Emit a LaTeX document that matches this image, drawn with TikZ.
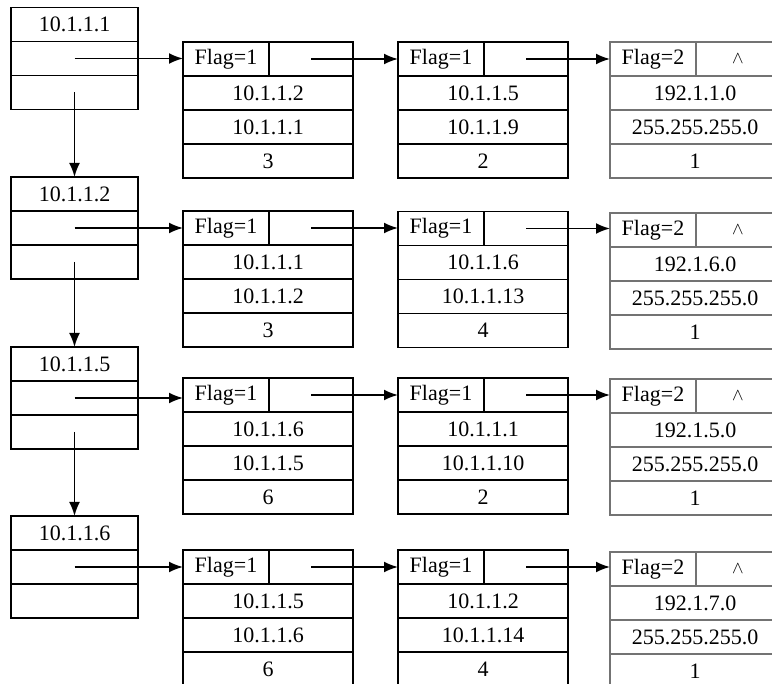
\documentclass[tikz,border=0pt]{standalone}
\usepackage{fontspec}
\setmainfont{Liberation Serif}
\newfontfamily\tms{Liberation Serif}
\usetikzlibrary{arrows.meta}
\newcommand\mkleft[4]{%
  \node[cell, minimum width=127pt] (#1a) at (#2,#3) {#4};
  \node[cell, minimum width=127pt] (#1b) at (#1a.south west) {};
  \node[cell, minimum width=127pt] (#1c) at (#1b.south west) {};}
\newcommand\mkrec[9]{%
  \node[#2, minimum width=86pt] (#1f) at (#3,#4) {#5};
  \node[#2, minimum width=84pt] (#1p) at (#1f.north east) {#6};
  \node[#2, minimum width=170pt] (#1r1) at (#1f.south west) {#7};
  \node[#2, minimum width=170pt] (#1r2) at (#1r1.south west) {#8};
  \node[#2, minimum width=170pt] (#1r3) at (#1r2.south west) {#9};}
\begin{document}
\begin{tikzpicture}[x=1pt,y=-1pt,
  cell/.style={draw, line width=1.8pt, inner sep=0pt, outer sep=0pt, anchor=north west,
    minimum height=34pt, font=\tms\fontsize{22}{22}\selectfont},
  lastcell/.style={cell, draw=black!55, line width=1.1pt},
  link/.style={line width=1.8pt, -{Latex[length=14pt,width=11pt]}}]
\useasboundingbox (0,0) rectangle (772,684);
\fill[white] (0,0) rectangle (772,684);
\newcommand\up{\raisebox{-2pt}{\fontsize{19}{19}\selectfont$\wedge$}}
% row 1
\mkleft{L1}{11}{7.5}{10.1.1.1}
\mkrec{A1}{cell}{183}{42}{Flag=1}{}{10.1.1.2}{10.1.1.1}{3}
\mkrec{B1}{cell}{398}{42}{Flag=1}{}{10.1.1.5}{10.1.1.9}{2}
\mkrec{C1}{lastcell}{610}{42}{Flag=2}{\up}{192.1.1.0}{255.255.255.0}{1}
% row 2
\mkleft{L2}{11}{177}{10.1.1.2}
\mkrec{A2}{cell}{183}{211}{Flag=1}{}{10.1.1.1}{10.1.1.2}{3}
\mkrec{B2}{cell}{398}{211.5}{Flag=1}{}{10.1.1.6}{10.1.1.13}{4}
\mkrec{C2}{lastcell}{610}{213}{Flag=2}{\up}{192.1.6.0}{255.255.255.0}{1}
% row 3
\mkleft{L3}{11}{347}{10.1.1.5}
\mkrec{A3}{cell}{183}{378}{Flag=1}{}{10.1.1.6}{10.1.1.5}{6}
\mkrec{B3}{cell}{398}{378}{Flag=1}{}{10.1.1.1}{10.1.1.10}{2}
\mkrec{C3}{lastcell}{610}{379}{Flag=2}{\up}{192.1.5.0}{255.255.255.0}{1}
% row 4
\mkleft{L4}{11}{516}{10.1.1.6}
\mkrec{A4}{cell}{183}{550}{Flag=1}{}{10.1.1.5}{10.1.1.6}{6}
\mkrec{B4}{cell}{398}{550}{Flag=1}{}{10.1.1.2}{10.1.1.14}{4}
\mkrec{C4}{lastcell}{610}{552}{Flag=2}{\up}{192.1.7.0}{255.255.255.0}{1}
% links
\foreach \r in {1,2,3,4}{
  \draw[link] (L\r b.center) -- (L\r b.center -| A\r f.west);
  \draw[link] (A\r p.center) -- (A\r p.center -| B\r f.west);
  \draw[link] (B\r p.center) -- (B\r p.center -| C\r f.west);
}
\draw[link] (L1c.center) -- (L2a.north);
\draw[link] (L2c.center) -- (L3a.north);
\draw[link] (L3c.center) -- (L4a.north);
\end{tikzpicture}
\end{document}
